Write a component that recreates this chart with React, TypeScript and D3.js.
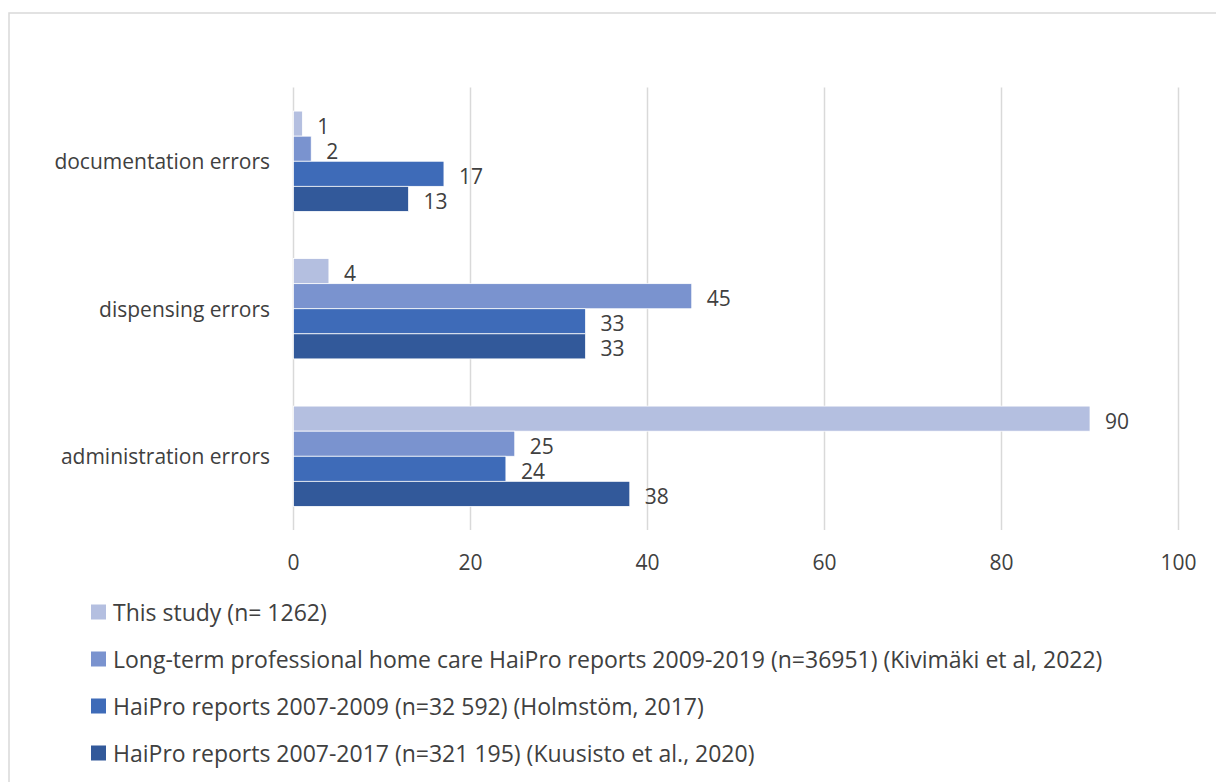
import React from "react";
import * as d3 from "d3";

const categories = ["documentation errors", "dispensing errors", "administration errors"];
const seriesNames = [
  "This study (n= 1262)",
  "Long-term professional home care HaiPro reports 2009-2019 (n=36951) (Kivimäki et al, 2022)",
  "HaiPro reports 2007-2009 (n=32 592) (Holmstöm, 2017)",
  "HaiPro reports 2007-2017 (n=321 195) (Kuusisto et al., 2020)",
];
const thisStudy = [1, 4, 90];
const longTerm = [2, 45, 25];
const haiPro0709 = [17, 33, 24];
const haiPro0717 = [13, 33, 38];
const seriesValues = [thisStudy, longTerm, haiPro0709, haiPro0717];
const xTicks = [0, 20, 40, 60, 80, 100];
const colors = ["#b4bfe0", "#7a93cf", "#3e6bb8", "#32599a"];

const W = 1216;
const H = 782;
const FONT = "'Open Sans', 'Noto Sans', sans-serif";
const TXT = "#404040";

export default function App() {
  React.useEffect(() => {
    document.body.style.margin = "0";
  }, []);
  const left = 293.5, right = 1178.5, top = 87.5, bottom = 530;
  const x = d3.scaleLinear().domain([0, 100]).range([left, right]);
  const y = d3.scaleBand().domain(categories).range([top, bottom]).paddingInner(0.32).paddingOuter(0.16);
  const inner = d3.scaleBand().domain(seriesNames).range([0, y.bandwidth()]);
  const legendY = [612, 659, 706, 753];

  return (
    <svg width={W} height={H} style={{ display: "block", fontFamily: FONT }}>
      <rect x={0} y={0} width={W} height={H} fill="#fff" />
      <rect x={9} y={13} width={W + 10} height={H + 10} fill="none" stroke="#d9d9d9" strokeWidth={1.5} />
      {xTicks.map((t) => (
        <g key={t}>
          <line x1={x(t)} x2={x(t)} y1={top} y2={bottom} stroke="#d9d9d9" strokeWidth={1.5} />
          <text x={x(t)} y={562} textAnchor="middle" dominantBaseline="central" fontSize={21} fill={TXT}>
            {t}
          </text>
        </g>
      ))}
      {categories.map((c, ci) => (
        <g key={c}>
          <text x={270} y={(y(c) as number) + y.bandwidth() / 2} textAnchor="end" dominantBaseline="central" fontSize={21} fill={TXT}>
            {c}
          </text>
          {seriesNames.map((s, si) => {
            const v = seriesValues[si][ci];
            const by = (y(c) as number) + (inner(s) as number);
            return (
              <g key={s}>
                <rect x={x(0)} y={by} width={x(v) - x(0)} height={inner.bandwidth()} fill={colors[si]} stroke="#fff" strokeWidth={0.75} />
                <text x={x(v) + 15} y={by + inner.bandwidth() / 2 + 2} dominantBaseline="central" fontSize={21} fill={TXT}>
                  {v}
                </text>
              </g>
            );
          })}
        </g>
      ))}
      {seriesNames.map((s, si) => (
        <g key={s}>
          <rect x={91} y={legendY[si] - 7.5} width={15} height={15} fill={colors[si]} />
          <text x={113} y={legendY[si]} dominantBaseline="central" fontSize={23} fill={TXT}>
            {s}
          </text>
        </g>
      ))}
    </svg>
  );
}
